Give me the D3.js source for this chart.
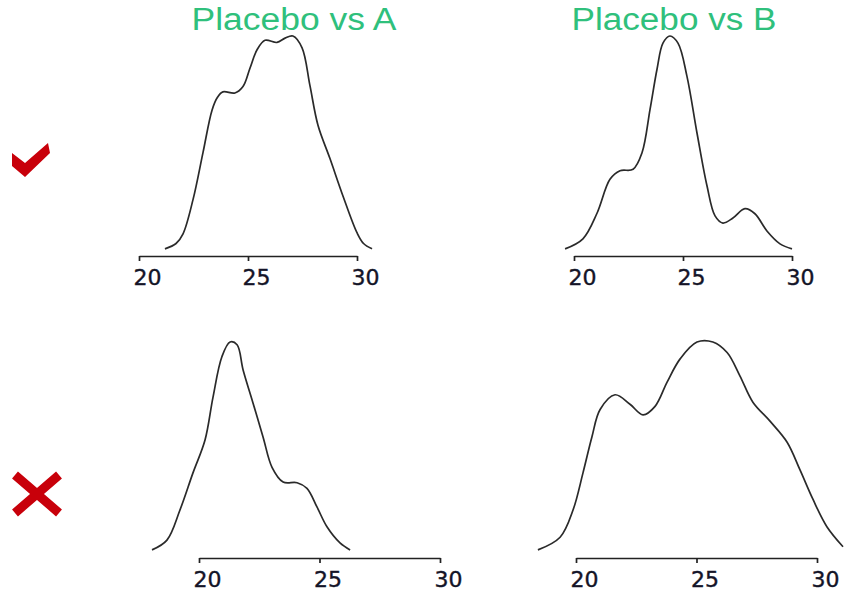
<!DOCTYPE html>
<html>
<head>
<meta charset="utf-8">
<script src="https://cdnjs.cloudflare.com/ajax/libs/d3/7.8.5/d3.min.js"></script>
<style>
  body { margin: 0; background: #fff; }
</style>
</head>
<body>
<script>
// density estimates (x = value, d = density)
const titles = ["Placebo vs A", "Placebo vs B"];
const tickValues = [20, 25, 30];

const densA_ok = [
  [21.19, 0.002], [21.70, 0.007], [22.02, 0.016], [22.48, 0.048], [22.94, 0.092],
  [23.35, 0.131], [23.60, 0.143], [23.85, 0.148], [24.40, 0.147], [24.77, 0.153],
  [25.09, 0.170], [25.41, 0.187], [25.78, 0.196], [26.33, 0.194], [26.70, 0.198],
  [27.06, 0.200], [27.48, 0.189], [27.84, 0.154], [28.21, 0.117], [28.76, 0.086],
  [29.36, 0.051], [30.00, 0.017], [30.30, 0.007], [30.69, 0.002]
];
const densB_ok = [
  [19.59, 0.003], [20.41, 0.017], [21.06, 0.053], [21.65, 0.100], [22.11, 0.112],
  [22.71, 0.114], [23.12, 0.137], [23.49, 0.198], [23.81, 0.254], [24.08, 0.290],
  [24.40, 0.300], [24.77, 0.290], [25.18, 0.244], [25.64, 0.165], [26.10, 0.091],
  [26.47, 0.049], [26.83, 0.039], [27.29, 0.046], [27.84, 0.059], [28.30, 0.052],
  [28.85, 0.028], [29.45, 0.010], [30.00, 0.003]
];
const densA_bad = [
  [18.05, 0.003], [18.67, 0.017], [19.21, 0.060], [19.75, 0.113], [20.25, 0.160],
  [20.58, 0.221], [20.95, 0.279], [21.29, 0.300], [21.58, 0.296], [21.83, 0.260],
  [22.24, 0.213], [22.66, 0.164], [23.03, 0.121], [23.49, 0.100], [24.07, 0.099],
  [24.48, 0.091], [24.90, 0.064], [25.31, 0.036], [25.85, 0.013], [26.27, 0.003]
];
const densB_bad = [
  [18.42, 0.002], [19.34, 0.014], [19.88, 0.040], [20.29, 0.075], [20.66, 0.109],
  [21.00, 0.135], [21.62, 0.149], [22.24, 0.140], [22.78, 0.130], [23.28, 0.138],
  [23.78, 0.161], [24.32, 0.183], [25.02, 0.199], [25.68, 0.199], [26.27, 0.189],
  [26.80, 0.167], [27.34, 0.142], [28.05, 0.124], [28.76, 0.104], [29.29, 0.078],
  [29.83, 0.050], [30.41, 0.024], [31.08, 0.005]
];

const width = 847, height = 594;

const svg = d3.select("body")
  .append("svg")
  .attr("width", width)
  .attr("height", height);

// panel layout: pixel range for x = 20..30, baseline and peak y
const panels = [
  { data: densA_ok,  x0: 139, x1: 357, base: 251, top: 36,  axisY: 256 },
  { data: densB_ok,  x0: 574, x1: 792, base: 251, top: 36,  axisY: 256 },
  { data: densA_bad, x0: 199, x1: 440, base: 552, top: 342, axisY: 558 },
  { data: densB_bad, x0: 576, x1: 817, base: 552, top: 342, axisY: 558 }
];

panels.forEach((p) => {
  const x = d3.scaleLinear().domain([20, 30]).range([p.x0, p.x1]);
  const y = d3.scaleLinear()
    .domain([0, d3.max(p.data, (d) => d[1])])
    .range([p.base, p.top]);

  const line = d3.line()
    .x((d) => x(d[0]))
    .y((d) => y(d[1]))
    .curve(d3.curveCatmullRom.alpha(0.5));

  svg.append("path")
    .datum(p.data)
    .attr("d", line)
    .attr("fill", "none")
    .attr("stroke", "#2a2a2a")
    .attr("stroke-width", 1.7);

  const axis = svg.append("g")
    .attr("transform", `translate(0, ${p.axisY})`)
    .call(d3.axisBottom(x).tickValues(tickValues).tickSizeInner(5).tickSizeOuter(0).tickPadding(8));

  axis.select(".domain").attr("stroke", "#222").attr("stroke-width", 1.7);
  axis.selectAll(".tick line").attr("stroke", "#222").attr("stroke-width", 1.7);
  axis.selectAll(".tick text")
    .attr("dx", 8)
    .attr("fill", "#141428")
    .attr("stroke", "#141428")
    .attr("stroke-width", 0.4)
    .style("font-family", "DejaVu Sans, Verdana, sans-serif")
    .style("font-size", "22px");
});

// column titles
svg.selectAll(".title")
  .data(titles)
  .join("text")
  .attr("class", "title")
  .attr("x", (d, i) => [294, 674][i])
  .attr("y", 30)
  .attr("text-anchor", "middle")
  .attr("textLength", 205)
  .attr("lengthAdjust", "spacingAndGlyphs")
  .style("font-family", "Liberation Sans, Arial, sans-serif")
  .style("font-size", "31px")
  .attr("fill", "#2fc07c")
  .text((d) => d);

// row markers: check and cross
svg.append("path")
  .attr("d", "M12,153 L25,163 L48,143 L50,153 L25,177 L12,166 Z")
  .attr("fill", "#c8000a");

svg.append("path")
  .attr("d", "M15,475 L59,513 M59,475 L15,513")
  .attr("stroke", "#c8000a")
  .attr("stroke-width", 9)
  .attr("fill", "none");
</script>
</body>
</html>
